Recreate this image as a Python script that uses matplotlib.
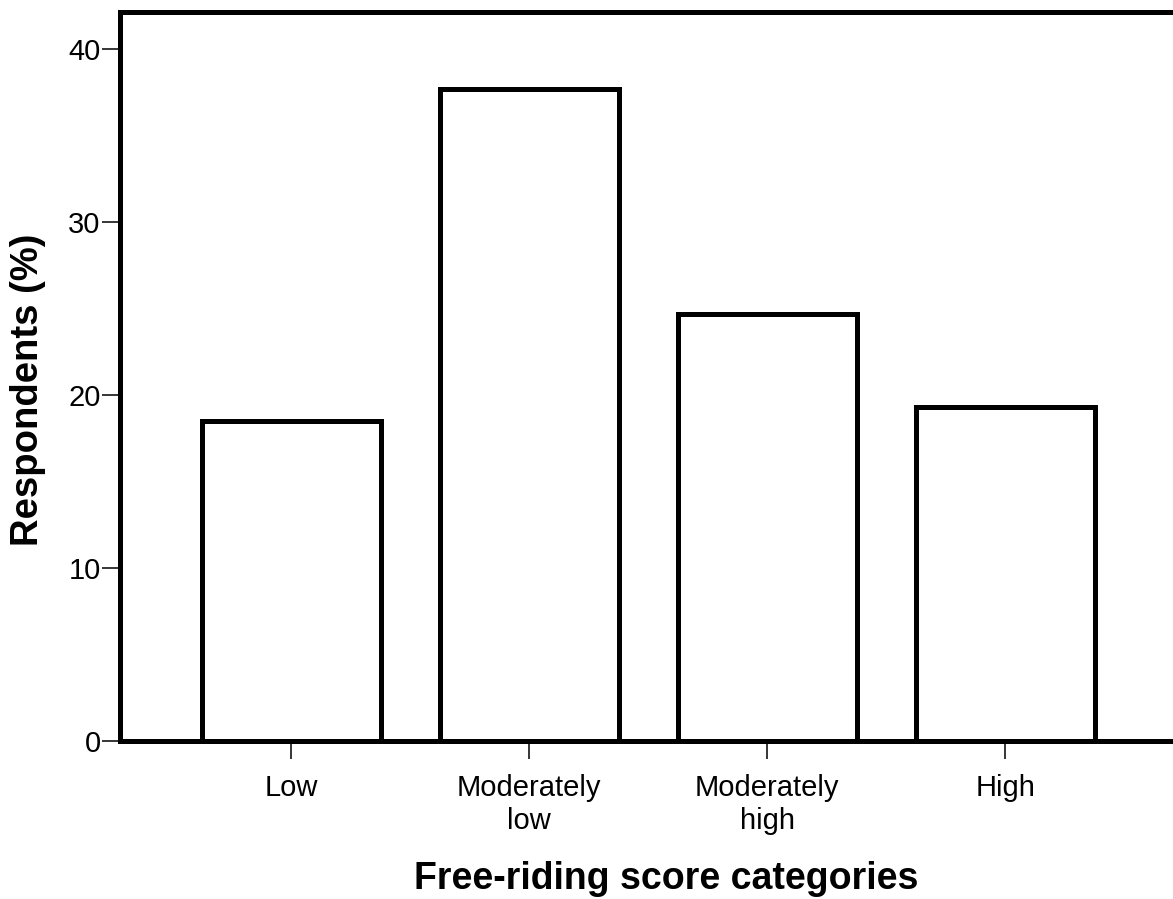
import matplotlib
matplotlib.use("Agg")
import matplotlib.pyplot as plt

# Data
categories = ["Low", "Moderately\nlow", "Moderately\nhigh", "High"]
respondents = [18.5, 37.7, 24.7, 19.3]
yticks = [0, 10, 20, 30, 40]

plt.rcParams['font.family'] = ['Liberation Sans', 'DejaVu Sans']

W, H = 1173, 899
fig = plt.figure(figsize=(W / 100, H / 100), dpi=100)

# Axes frame in pixels: left 120, top 12, bottom 741, right runs past the image
left, right, top, bottom = 120, 1185, 12, 741
ax = fig.add_axes([left / W, (H - bottom) / H, (right - left) / W, (bottom - top) / H])

x = list(range(len(categories)))
ax.bar(x, respondents, width=0.75, facecolor="white", edgecolor="black",
       linewidth=3.6, zorder=3)

ax.set_xlim(-0.72, -0.72 + (right - left) / 238)
ax.set_ylim(0, (bottom - top) / 17.3)

ax.set_xticks(x)
ax.set_xticklabels(categories, fontsize=21, linespacing=1.2)
ax.set_yticks(yticks)
ax.set_yticklabels([str(v) for v in yticks], fontsize=21)

ax.tick_params(axis="x", direction="out", length=13, width=1.1, pad=11)
ax.tick_params(axis="y", direction="out", length=13, width=1.1, pad=1)

for s in ax.spines.values():
    s.set_linewidth(3.6)
    s.set_zorder(4)

# Axis titles
fig.text(28 / W, (H - 390) / H, "Respondents (%)", rotation=90,
         ha="center", va="center", fontsize=27.5, fontweight="bold")
fig.text(666 / W, (H - 889) / H, "Free-riding score categories",
         ha="center", va="baseline", fontsize=27, fontweight="bold")

fig.savefig("out.png", dpi=100)
